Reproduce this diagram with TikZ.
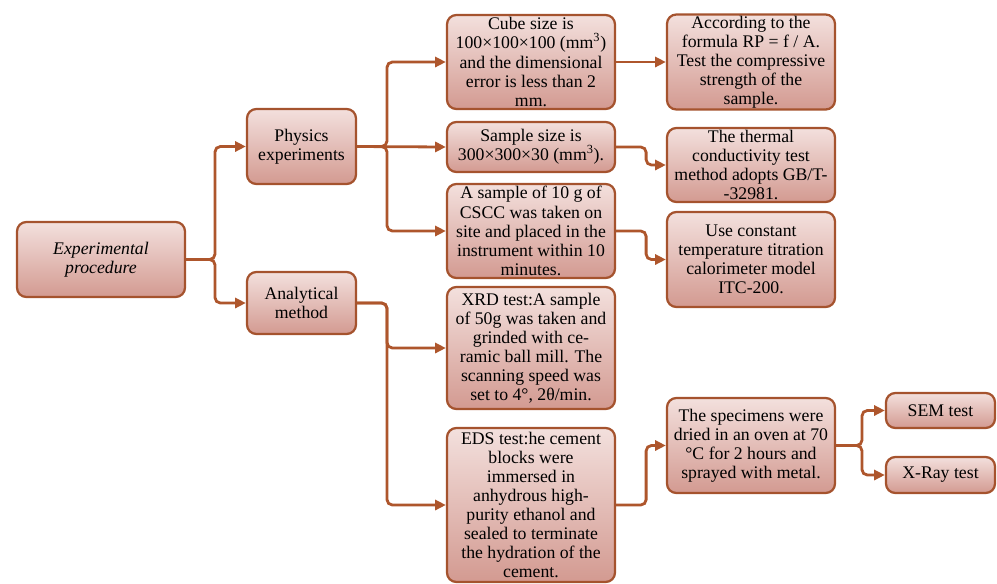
\documentclass[tikz,border=0pt]{standalone}
\usepackage{fontspec}
\setmainfont{Liberation Serif}
\usepackage{xcolor}
\usetikzlibrary{arrows.meta}
\definecolor{boxline}{HTML}{A5532E}
\definecolor{boxtop}{HTML}{F3E0DD}
\definecolor{boxbot}{HTML}{D39A91}
\definecolor{linkcol}{HTML}{AE562C}
\tikzset{
	stepnode/.style = {draw = boxline, line width = 1.7pt, rounded corners = 7pt,
		top color = boxtop, bottom color = boxbot, align = center, inner sep = 1pt,
		font = \fontsize{13.3}{14.3}\selectfont, minimum width = 126pt},
	smallnode/.style = {stepnode, minimum width = 81.75pt},
	link/.style = {draw = linkcol, line width = 2.1pt, rounded corners = 4pt,
		-{Triangle[length = 8pt, width = 7.5pt]}}
}
\begin{document}
\begin{tikzpicture}[x = 0.75pt, y = -0.75pt]
			\useasboundingbox (0, 0) rectangle (997, 583);
			% left part
			\node[stepnode, minimum height = 56.25pt] (exp) at (101, 259.5) {\itshape Experimental\\ \itshape procedure};
			\node[smallnode, minimum height = 56.25pt] (phys) at (301.5, 146.5) {Physics\\experiments};
			\node[smallnode, minimum height = 46.5pt] (anal) at (301.5, 303) {Analytical\\method};
			% middle column
			\node[stepnode, minimum height = 70.5pt] (cube) at (531, 62) {Cube size is\\100×100×100 (mm\textsuperscript{3})\\and the dimensional\\error is less than 2\\mm.};
			\node[stepnode, minimum height = 37.5pt] (size) at (531, 147) {Sample size is\\300×300×30 (mm\textsuperscript{3}).};
			\node[stepnode, minimum height = 70.5pt] (site) at (531, 231) {A sample of 10 g of\\CSCC was taken on\\site and placed in the\\instrument within 10\\minutes.};
			\node[stepnode, minimum height = 91.5pt] (xrd) at (531, 348) {XRD test:A sample\\of 50g was taken and\\grinded with ce-\\ramic ball mill. The\\scanning speed was\\set to 4°, 2θ/min.};
			\node[stepnode, minimum height = 115.5pt] (eds) at (531, 505) {EDS test:he cement\\blocks were\\immersed in\\anhydrous high-\\purity ethanol and\\sealed to terminate\\the hydration of the\\cement.};
			% right column
			\node[stepnode, minimum height = 70.5pt] (accord) at (751, 62) {According to the\\formula RP = f / A.\\Test the compressive\\strength of the\\sample.};
			\node[stepnode, minimum height = 55.5pt] (thermal) at (751, 165) {The thermal\\conductivity test\\method adopts GB/T-\\-32981.};
			\node[stepnode, minimum height = 71.25pt] (itc) at (751, 259.5) {Use constant\\temperature titration\\calorimeter model\\ITC-200.};
			\node[stepnode, minimum height = 71.25pt] (spec) at (751, 445.5) {The specimens were\\dried in an oven at 70\\°C for 2 hours and\\sprayed with metal.};
			\node[smallnode, minimum height = 26.25pt] (sem) at (940.5, 410.5) {SEM test};
			\node[smallnode, minimum height = 27pt] (xray) at (940.5, 475) {X-Ray test};
			% junctions
			\coordinate (jexp) at (215, 259.5);
			\coordinate (jphys) at (387, 146.5);
			\coordinate (janal) at (387, 303);
			\coordinate (jspec) at (862, 445.5);
			% connectors
			\foreach \t in {phys, anal}
			\draw[link] (exp.east) -- (jexp) |- (\t.west);
			\foreach \t in {cube, site}
			\draw[link] (phys.east) -- (jphys) |- (\t.west);
			\draw[link] (phys.east) -- (size.west);
			\foreach \t in {xrd, eds}
			\draw[link] (anal.east) -- (janal) |- (\t.west);
			\foreach \t in {sem, xray}
			\draw[link] (spec.east) -- (jspec) |- (\t.west);
			\draw[link] (cube.east) -- (accord.west);
			\draw[link] (size.east) -- ++(30, 0) |- (thermal.west);
			\draw[link] (site.east) -- ++(30, 0) |- (itc.west);
			\draw[link] (eds.east) -- ++(30, 0) |- (spec.west);
\end{tikzpicture}
\end{document}
